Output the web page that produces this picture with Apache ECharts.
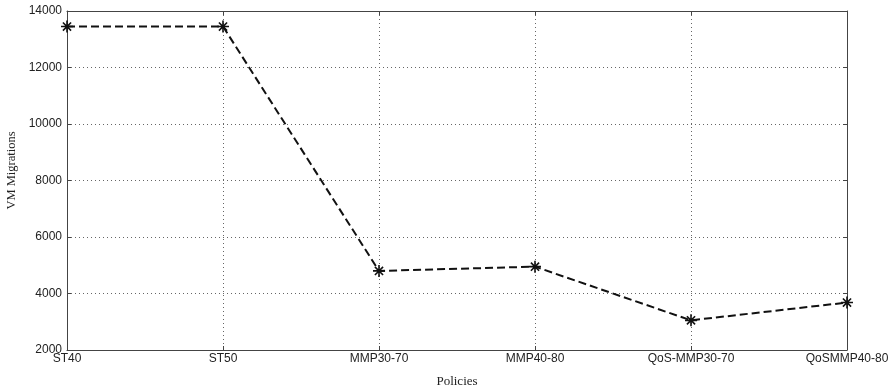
<!DOCTYPE html>
<html>
<head>
<meta charset="utf-8">
<script src="https://cdn.jsdelivr.net/npm/echarts@6/dist/echarts.min.js"></script>
<style>
  html, body { margin: 0; padding: 0; background: #fff; }
  #chart { width: 896px; height: 389px; }
</style>
</head>
<body>
<div id="chart"></div>
<script>
const policies = ["ST40", "ST50", "MMP30-70", "MMP40-80", "QoS-MMP30-70", "QoSMMP40-80"];
const migrations = [13450, 13450, 4800, 4950, 3050, 3680];
const yTicks = { min: 2000, max: 14000, step: 2000 };

const chart = echarts.init(document.getElementById("chart"));

// MATLAB-like asterisk marker
const asterisk = "path://M5 0 L5 10 M0 5 L10 5 M1.6 1.6 L8.4 8.4 M8.4 1.6 L1.6 8.4";
const tickFont = { fontFamily: "Liberation Sans, Arial", fontSize: 12, color: "#222" };
const frame = { show: true, lineStyle: { color: "#444", width: 1 } };

const option = {
  backgroundColor: "#fff",
  animation: false,
  grid: { left: 67, right: 49, top: 11, bottom: 39, outerBoundsMode: "none", containLabel: false },
  xAxis: [
    {
      type: "category",
      data: policies,
      boundaryGap: false,
      name: "Policies",
      nameLocation: "middle",
      nameGap: 25,
      nameTextStyle: { fontFamily: "Liberation Serif, Times New Roman", fontSize: 13, color: "#222" },
      axisLine: frame,
      axisTick: { show: true, inside: true, length: 4, lineStyle: { color: "#444" } },
      axisLabel: Object.assign({ margin: 3 }, tickFont),
      splitLine: { show: true, lineStyle: { type: [1, 3], color: "#666" } },
    },
    {
      type: "category",
      data: policies,
      boundaryGap: false,
      position: "top",
      axisLine: frame,
      axisTick: { show: true, inside: true, length: 4, lineStyle: { color: "#444" } },
      axisLabel: { show: false },
      splitLine: { show: false },
    },
  ],
  yAxis: [
    {
      type: "value",
      min: yTicks.min,
      max: yTicks.max,
      interval: yTicks.step,
      name: "VM Migrations",
      nameLocation: "middle",
      nameGap: 48,
      nameTextStyle: {
        fontFamily: "Liberation Serif, Times New Roman",
        fontSize: 12.5,
        color: "#222",
        padding: [0, 0, 0, 20],
      },
      axisLine: frame,
      axisTick: { show: true, inside: true, length: 4, lineStyle: { color: "#444" } },
      axisLabel: Object.assign({ margin: 5, formatter: (v) => String(v) }, tickFont),
      splitLine: { show: true, lineStyle: { type: [1, 3], color: "#666" } },
    },
    {
      type: "value",
      min: yTicks.min,
      max: yTicks.max,
      interval: yTicks.step,
      position: "right",
      axisLine: frame,
      axisTick: { show: true, inside: true, length: 4, lineStyle: { color: "#444" } },
      axisLabel: { show: false },
      splitLine: { show: false },
    },
  ],
  series: [
    {
      type: "line",
      data: migrations,
      symbol: asterisk,
      symbolSize: 12,
      lineStyle: { color: "#111", width: 2, type: [8, 4] },
      itemStyle: { color: "#111", borderColor: "#111", borderWidth: 1.6 },
    },
  ],
};

chart.setOption(option);
</script>
</body>
</html>
